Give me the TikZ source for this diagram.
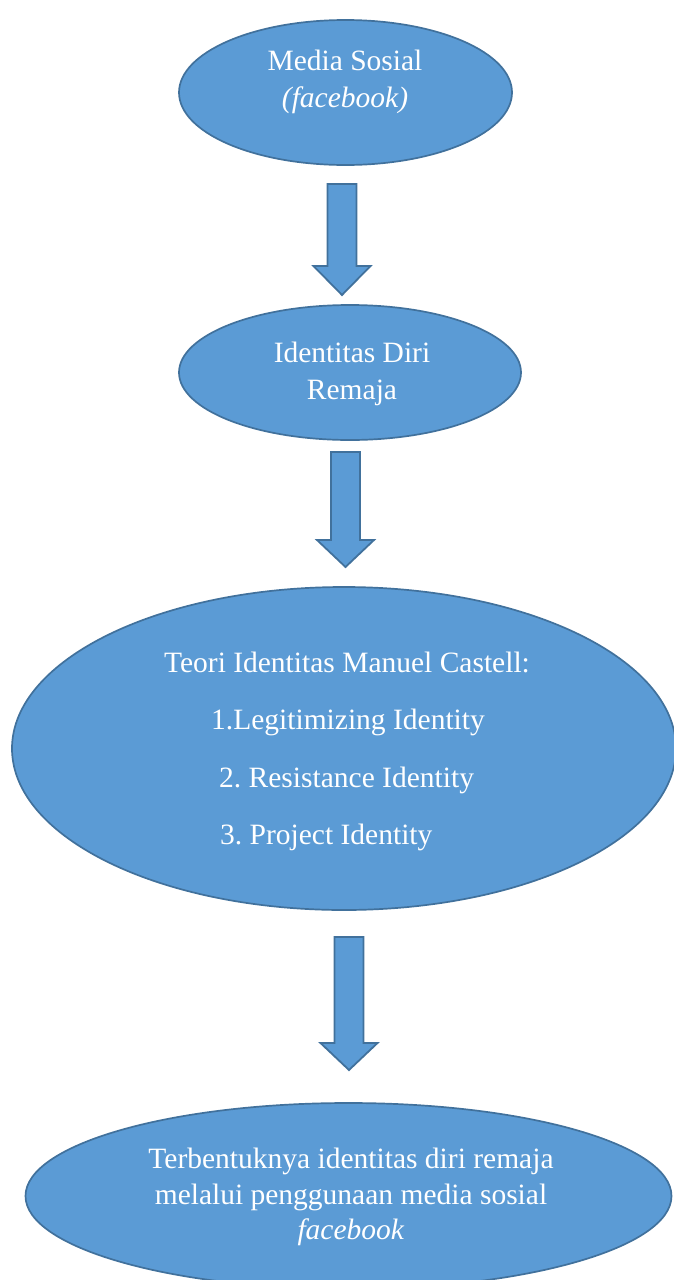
\documentclass[tikz,border=0pt]{standalone}
\usepackage{fontspec}
\setmainfont{Liberation Serif}
\usetikzlibrary{shapes.geometric}
\definecolor{bubble}{HTML}{5B9BD5}
\definecolor{rim}{HTML}{41719C}
\frenchspacing
% a thick block arrow pointing down: x, top, shaft end, tip
\newcommand\flowdown[4]{%
  \draw[flowarrow] (#1-14.5,#2) -- (#1+14.5,#2) -- (#1+14.5,#3) -- (#1+28.5,#3)
    -- (#1,#4) -- (#1-28.5,#3) -- (#1-14.5,#3) -- cycle;}
\begin{document}
\begin{tikzpicture}[x=1pt,y=-1pt,
  bubble/.style={ellipse, draw=rim, line width=1.7pt, fill=bubble, inner sep=0pt},
  label/.style={text=white, font=\fontsize{29.5}{37}\selectfont, inner sep=0pt, align=center},
  flowarrow/.style={draw=rim, line width=1.8pt, fill=bubble, line join=miter}]
\useasboundingbox (0,0) rectangle (674,1280);
% ellipses
\node[bubble, minimum width=333, minimum height=145] (e1) at (345.5,92.5) {};
\node[bubble, minimum width=342, minimum height=135] (e2) at (350,372.5) {};
\node[bubble, minimum width=664, minimum height=323] (e3) at (344,748.5) {};
\node[bubble, minimum width=646, minimum height=186] (e4) at (348.5,1196) {};
% texts
\node[label] (t1) at (345,82) {Media Sosial\\\textit{(facebook)}};
\node[label] (t2) at (352,374) {Identitas Diri\\Remaja};
\node[label] (t3a) at (347,662) {Teori Identitas Manuel Castell:};
\node[label] (t3b) at (348,722) {1.Legitimizing Identity};
\node[label, anchor=west] (t3c) at (219,780) {2. Resistance Identity};
\node[label, anchor=west] (t3d) at (220,837) {3. Project Identity};
\node[label, font=\fontsize{29.5}{35.5}\selectfont] (t4) at (351,1197) {Terbentuknya identitas diri remaja\\melalui penggunaan media sosial\\\textit{facebook}};
% block arrows between the ellipses
\flowdown{342}{184}{266}{295}
\flowdown{345.5}{452}{540}{567}
\flowdown{349}{937}{1043}{1070}
\end{tikzpicture}
\end{document}
